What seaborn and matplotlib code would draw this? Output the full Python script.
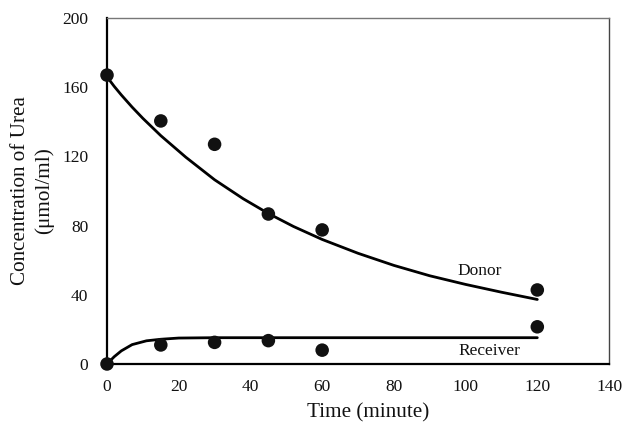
import matplotlib
matplotlib.use("Agg")
import matplotlib.pyplot as plt
import seaborn as sns
import pandas as pd

# Measured points
time_pts = [0, 15, 30, 45, 60, 120]
donor_pts = [167, 140.5, 127, 86.7, 77.5, 42.8]
receiver_pts = [0, 11, 12.5, 13.5, 8, 21.5]

# Fitted curves
donor_curve_t = [0, 2, 4, 7, 10, 15, 22, 30, 38, 45, 52, 60, 70, 80, 90, 100, 110, 120]
donor_curve_v = [166, 160.5, 155.5, 148.5, 142, 132, 119.5, 106.5, 95.5, 87, 79.5, 72, 64, 57, 51, 46, 41.5, 37.3]
receiver_curve_t = [0, 2, 4, 7, 11, 15, 20, 30, 60, 90, 120]
receiver_curve_v = [0, 4.2, 7.6, 11.2, 13.4, 14.3, 15.0, 15.2, 15.2, 15.2, 15.2]

x_ticks = [0, 20, 40, 60, 80, 100, 120, 140]
y_ticks = [0, 40, 80, 120, 160, 200]

sns.set_theme(style="white")
plt.rcParams['font.family'] = ['Liberation Serif', 'DejaVu Serif']
plt.rcParams.update({"text.color": "black", "axes.labelcolor": "black",
                     "xtick.color": "black", "ytick.color": "black"})

fig = plt.figure(figsize=(6.24, 4.23), dpi=100)
ax = fig.add_axes([0.1715, 0.1395, 0.976 - 0.1715, 0.9574 - 0.1395])

df_d = pd.DataFrame({"t": donor_curve_t, "v": donor_curve_v})
df_r = pd.DataFrame({"t": receiver_curve_t, "v": receiver_curve_v})
sns.lineplot(data=df_d, x="t", y="v", ax=ax, color="black", linewidth=2.0, zorder=3)
sns.lineplot(data=df_r, x="t", y="v", ax=ax, color="black", linewidth=2.0, zorder=3)

pts = pd.DataFrame({"t": time_pts * 2, "v": donor_pts + receiver_pts})
sns.scatterplot(data=pts, x="t", y="v", ax=ax, color="#111111", s=95,
                edgecolor="none", zorder=4, clip_on=False)

ax.text(104, 54, "Donor", ha="center", va="center", fontsize=12.5, color="#111111")
ax.text(106.7, 7.7, "Receiver", ha="center", va="center", fontsize=12.5, color="#111111")

ax.set_xlim(0, 140)
ax.set_ylim(0, 200)
ax.set_xticks(x_ticks)
ax.set_yticks(y_ticks)
ax.set_xticklabels([str(v) for v in x_ticks], fontsize=12.5, color="#111111")
ax.set_yticklabels([str(v) for v in y_ticks], fontsize=12.5, color="#111111")
ax.set_xlabel("Time (minute)", fontsize=15.2, color="#111111")
ax.set_ylabel("Concentration of Urea\n(μmol/ml)", fontsize=15.2, linespacing=1.25,
              color="#111111")
ax.xaxis.set_label_coords(0.52, -0.112)
ax.yaxis.set_label_coords(-0.106, 0.5)

ax.tick_params(axis="both", direction="out", length=3.6, width=1.2, color="black")
ax.tick_params(axis="x", pad=7)
ax.tick_params(axis="y", pad=10)
for side in ["left", "bottom"]:
    ax.spines[side].set_color("black")
    ax.spines[side].set_linewidth(1.6)
ax.spines["top"].set_color("#777777")
ax.spines["top"].set_linewidth(1.0)
ax.spines["right"].set_color("#444444")
ax.spines["right"].set_linewidth(1.0)

fig.savefig("out.png", dpi=100)
